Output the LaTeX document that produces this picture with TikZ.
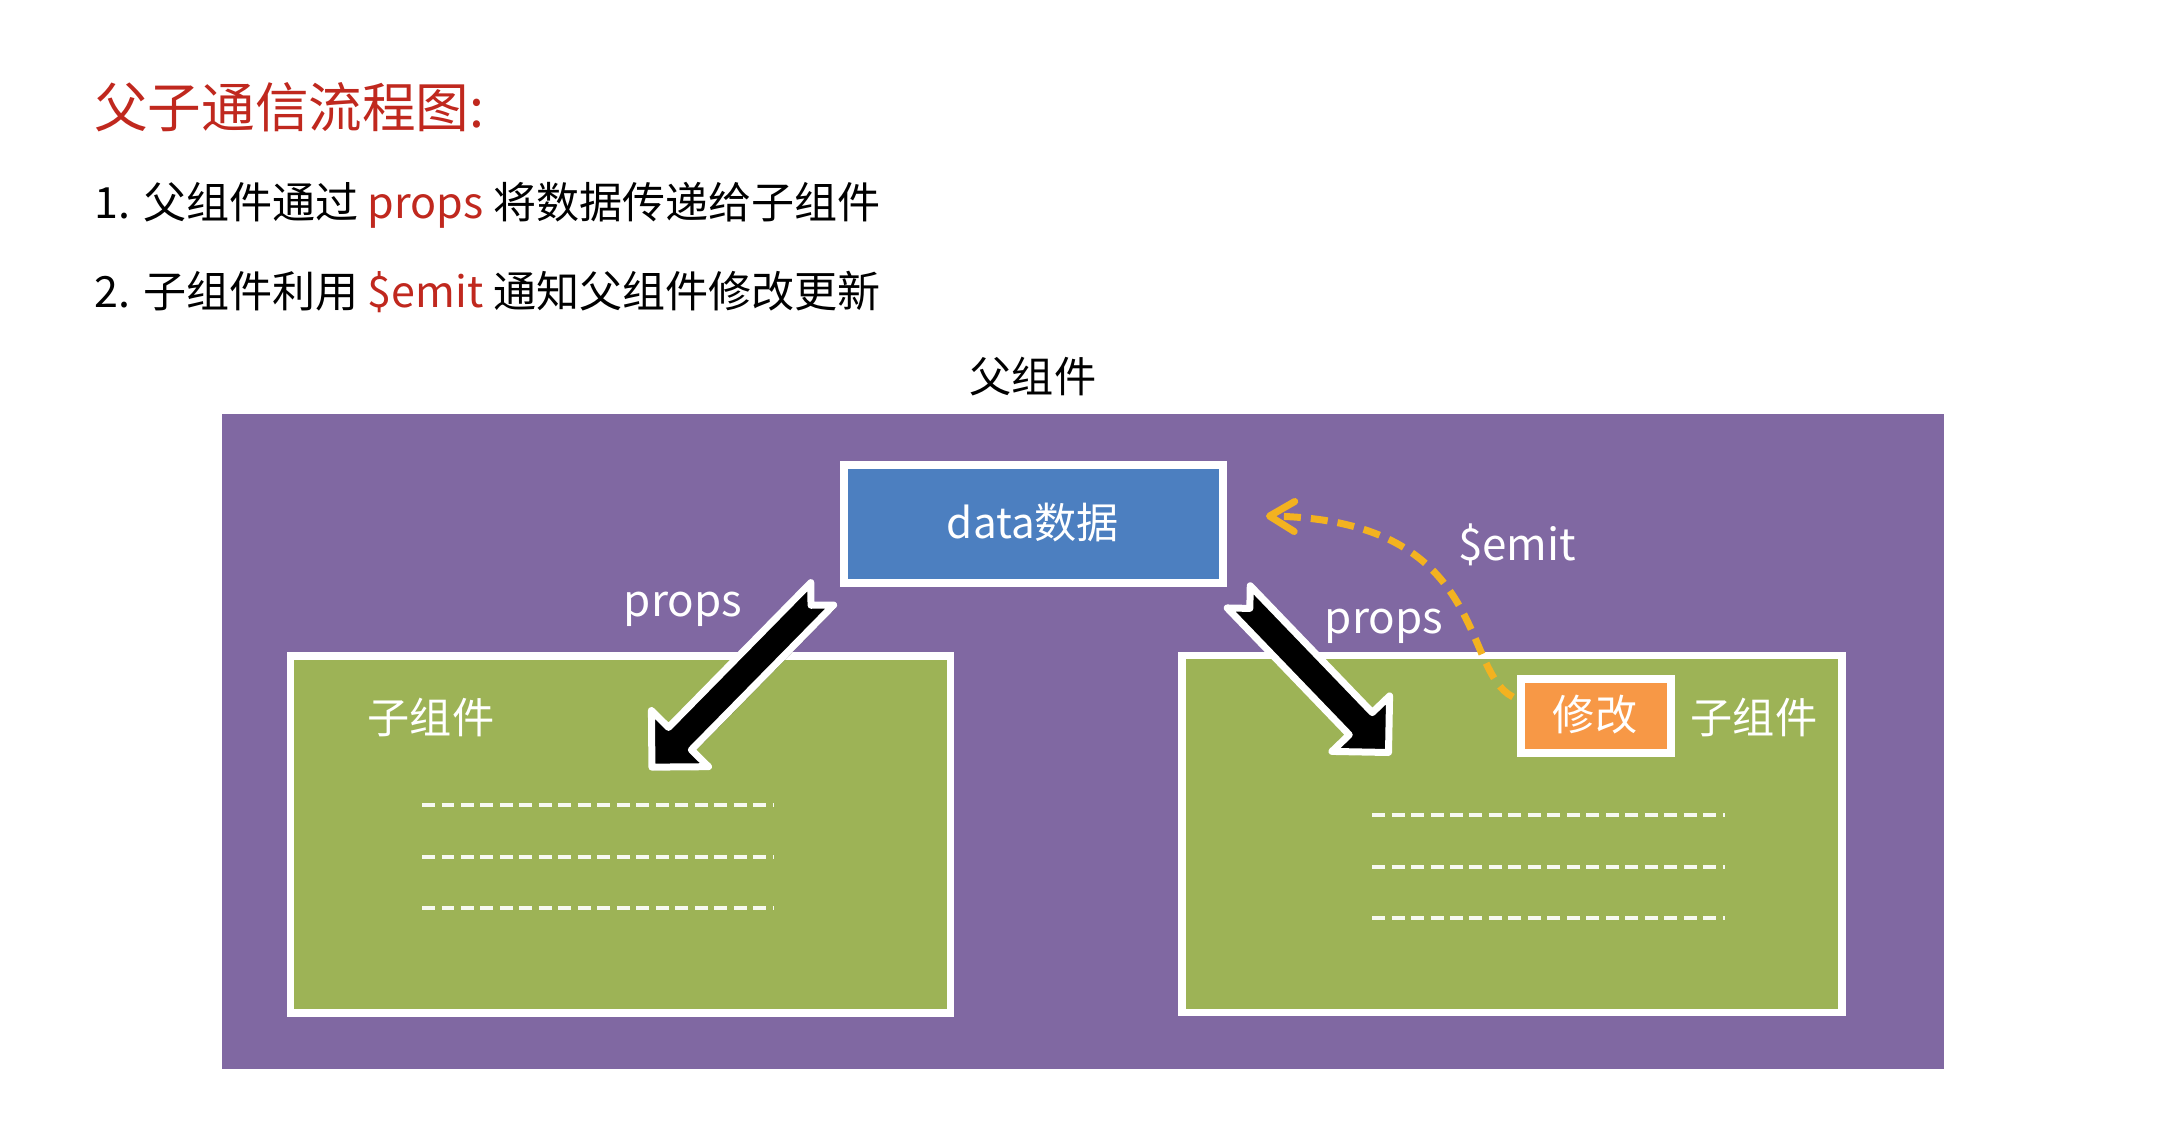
\documentclass[tikz,border=0pt]{standalone}
\usepackage{fontspec}
\setmainfont{Noto Sans CJK SC}
\usetikzlibrary{calc,arrows.meta,shadows}
\definecolor{cpurple}{RGB}{128,104,162}
\definecolor{cblue}{RGB}{76,127,192}
\definecolor{cgreen}{RGB}{157,179,86}
\definecolor{corange}{RGB}{247,152,70}
\definecolor{cyellow}{RGB}{243,178,32}
\definecolor{cred}{RGB}{192,40,30}
\newcommand\mytitlefont{\fontsize{30.5pt}{36pt}\selectfont}
\newcommand\mylistfont{\fontsize{24.5pt}{29pt}\selectfont}
\newcommand\mydiagfont{\fontsize{24pt}{28pt}\selectfont}
\newcommand\mypropsfont{\fontsize{25pt}{30pt}\selectfont}
\begin{document}
\begin{tikzpicture}[x=0.02cm,y=-0.02cm,
  softshadow/.style={drop shadow={shadow xshift=1.2pt,shadow yshift=-1.8pt,opacity=0.28,fill=black}},
  panelbox/.style={draw=white,line width=0.16cm,fill=cpurple,inner sep=0,
    minimum width=34.6cm,minimum height=13.26cm,softshadow},
  databox/.style={draw=white,line width=0.16cm,fill=cblue,inner sep=0,
    minimum width=7.58cm,minimum height=2.36cm,softshadow},
  childbox/.style={draw=white,line width=0.15cm,fill=cgreen,inner sep=0,
    minimum width=13.2cm,minimum height=7.14cm,softshadow},
  editbox/.style={draw=white,line width=0.16cm,fill=corange,inner sep=0,
    minimum width=3cm,minimum height=1.48cm,softshadow},
  wlabel/.style={text=white,inner sep=0,font=\mydiagfont},
  plabel/.style={text=white,inner sep=0,font=\mypropsfont,anchor=base},
  blockarrow/.style={fill=black,draw=white,line width=0.14cm,line join=round,softshadow},
  dashline/.style={draw=white!92!cgreen,line width=0.08cm,dash pattern=on 0.26cm off 0.13cm},
  emitline/.style={draw=cyellow,line width=0.14cm,dash pattern=on 0.34cm off 0.2cm,
    -{Straight Barb[length=0.5cm,width=0.6cm,line cap=round,line join=round]}}
]
\useasboundingbox (0,0) rectangle (2178,1146);
\fill[white] (0,0) rectangle (2178,1146);

% heading and list
\node[anchor=west,inner sep=0,text=cred,font=\mytitlefont] (title) at (94,107) {父子通信流程图:};
\node[anchor=west,inner sep=0,font=\mylistfont] (item1) at (94,205)
  {1. 父组件通过 \textcolor{cred}{props} 将数据传递给子组件};
\node[anchor=west,inner sep=0,font=\mylistfont] (item2) at (94,292)
  {2. 子组件利用 \textcolor{cred}{\$emit} 通知父组件修改更新};

% parent component
\node[inner sep=0,font=\mydiagfont] (parentlabel) at (1033,377) {父组件};
\node[panelbox] (panel) at (1083,741.5) {};

\node[databox] (data) at (1033.5,524) {};
\node[wlabel] (datatext) at (1033,523) {data数据};

\node[childbox] (childL) at (620.5,834.5) {};
\node[childbox] (childR) at (1512,834) {};
\node[wlabel] (childLtext) at (431,717) {子组件};
\node[wlabel] (childRtext) at (1754,717) {子组件};

\node[editbox] (xg) at (1596,716) {};
\node[wlabel] (xgtext) at (1595,715) {修改};

% dashed content lines
\foreach \yy in {805,857,908} \draw[dashline] (422,\yy) -- (774,\yy);
\foreach \yy in {815,867,918} \draw[dashline] (1372,\yy) -- (1725,\yy);

% props block arrows
\coordinate (t1) at ($(data.south west)+(-15,4)$);
\coordinate (t2) at ($(data.south east)+(9,7)$);
\begin{scope}[shift={(t1)},rotate=-134.5]
  \draw[blockarrow] (4,16) -- (20,0) -- (4,-16) -- (207,-16) -- (207,-40) -- (247,0)
    -- (207,40) -- (207,16) -- cycle;
\end{scope}
\begin{scope}[shift={(t2)},rotate=-46.1]
  \draw[blockarrow] (4,16) -- (20,0) -- (4,-16) -- (180,-16) -- (180,-40) -- (220,0)
    -- (180,40) -- (180,16) -- cycle;
\end{scope}
\node[plabel] (propsL) at (683,616) {props};
\node[plabel] (propsR) at (1384,633) {props};

% $emit curve
\coordinate (es) at ($(xg.west)+(-4,-19)$);
\coordinate (ee) at ($(data.east)+(39,-8)$);
\draw[emitline] (es) .. controls (1460,670) and (1490,520) .. (ee);
\node[plabel] (emit) at (1517,560) {\$emit};
\end{tikzpicture}
\end{document}
